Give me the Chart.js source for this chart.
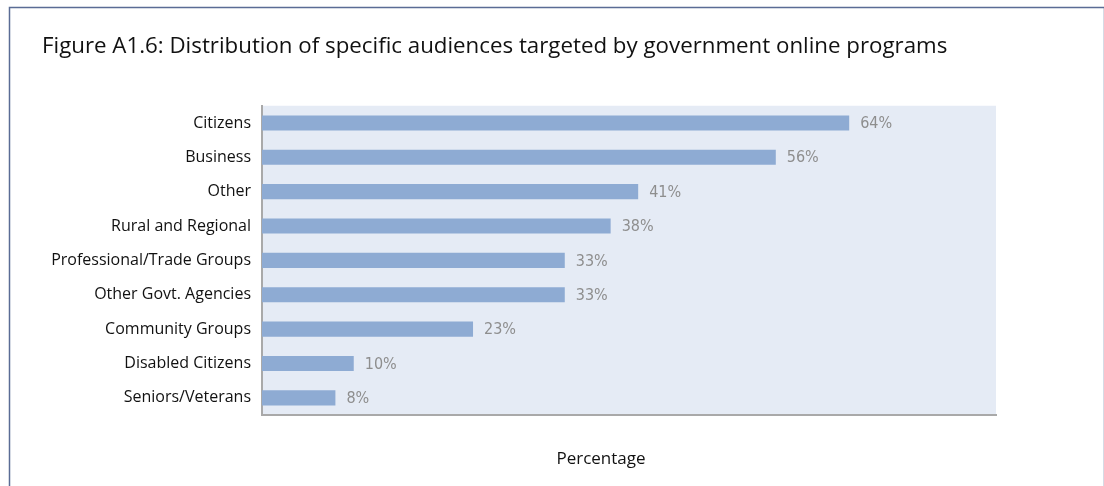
<!DOCTYPE html>
<html>
<head>
<meta charset="utf-8">
<script src="https://cdn.jsdelivr.net/npm/chart.js@4.4.1/dist/chart.umd.min.js"></script>
<style>
  html, body { margin: 0; padding: 0; background: #fff; }
  #wrap { position: relative; width: 1104px; height: 486px; }
</style>
</head>
<body>
<div id="wrap"><canvas id="audienceChart" width="1104" height="486"></canvas></div>
<script>
const audiences = [
    'Citizens',
    'Business',
    'Other',
    'Rural and Regional',
    'Professional/Trade Groups',
    'Other Govt. Agencies',
    'Community Groups',
    'Disabled Citizens',
    'Seniors/Veterans'
];
const shares = [64, 56, 41, 38, 33, 33, 23, 10, 8];
const axisMax = 80;
const axisTitle = 'Percentage';

const bodyFont = '"Open Sans", "Noto Sans", sans-serif';

// light blue panel behind the bars plus the frame round the whole figure
const backdrop = {
    id: 'backdrop',
    beforeDraw(chart) {
        const { ctx, chartArea: a } = chart;
        ctx.save();
        ctx.fillStyle = '#e5ebf5';
        ctx.fillRect(a.left, a.top, a.right - a.left, a.bottom - a.top);
        ctx.strokeStyle = '#5a6c95';
        ctx.lineWidth = 1.5;
        ctx.strokeRect(9.5, 7.5, chart.width - 9, chart.height + 20);
        ctx.restore();
    }
};

// percentage printed just past the end of each bar, and the axis caption
const barLabels = {
    id: 'barLabels',
    afterDatasetsDraw(chart) {
        const { ctx } = chart;
        const meta = chart.getDatasetMeta(0);
        ctx.save();
        ctx.font = '16px "Liberation Sans Narrow", "DejaVu Sans Condensed", sans-serif';
        ctx.fillStyle = '#8e8e8e';
        ctx.textBaseline = 'middle';
        meta.data.forEach((bar, i) => {
            ctx.fillText(shares[i] + '%', bar.x + 11, bar.y + 1);
        });
        ctx.font = '17px ' + bodyFont;
        ctx.fillStyle = '#111';
        ctx.textAlign = 'center';
        ctx.fillText(axisTitle, 601, 459);
        ctx.restore();
    }
};

new Chart(document.getElementById('audienceChart'), {
    type: 'bar',
    data: {
        labels: audiences,
        datasets: [{
            data: shares,
            backgroundColor: '#8eabd3',
            barPercentage: 0.44,
            categoryPercentage: 1
        }]
    },
    options: {
        indexAxis: 'y',
        responsive: false,
        animation: false,
        layout: { padding: { left: 42, right: 108, top: 0, bottom: 16 } },
        plugins: {
            legend: { display: false },
            tooltip: { enabled: false },
            title: {
                display: true,
                text: 'Figure A1.6: Distribution of specific audiences targeted by government online programs',
                align: 'start',
                color: '#111',
                font: { family: bodyFont, size: 22.3, weight: 'normal' },
                padding: { top: 33, bottom: 46 }
            }
        },
        scales: {
            x: {
                min: 0,
                max: axisMax,
                grid: { display: false, drawTicks: false },
                border: { color: '#a9a9a9', width: 2 },
                ticks: { display: false },
                afterFit(axis) { axis.height = 55; }
            },
            y: {
                grid: { display: false, drawTicks: false },
                border: { color: '#a9a9a9', width: 2 },
                ticks: {
                    color: '#111',
                    padding: 11,
                    font: { family: bodyFont, size: 16 }
                },
                afterFit(axis) { axis.width = 220; }
            }
        }
    },
    plugins: [backdrop, barLabels]
});
</script>
</body>
</html>
